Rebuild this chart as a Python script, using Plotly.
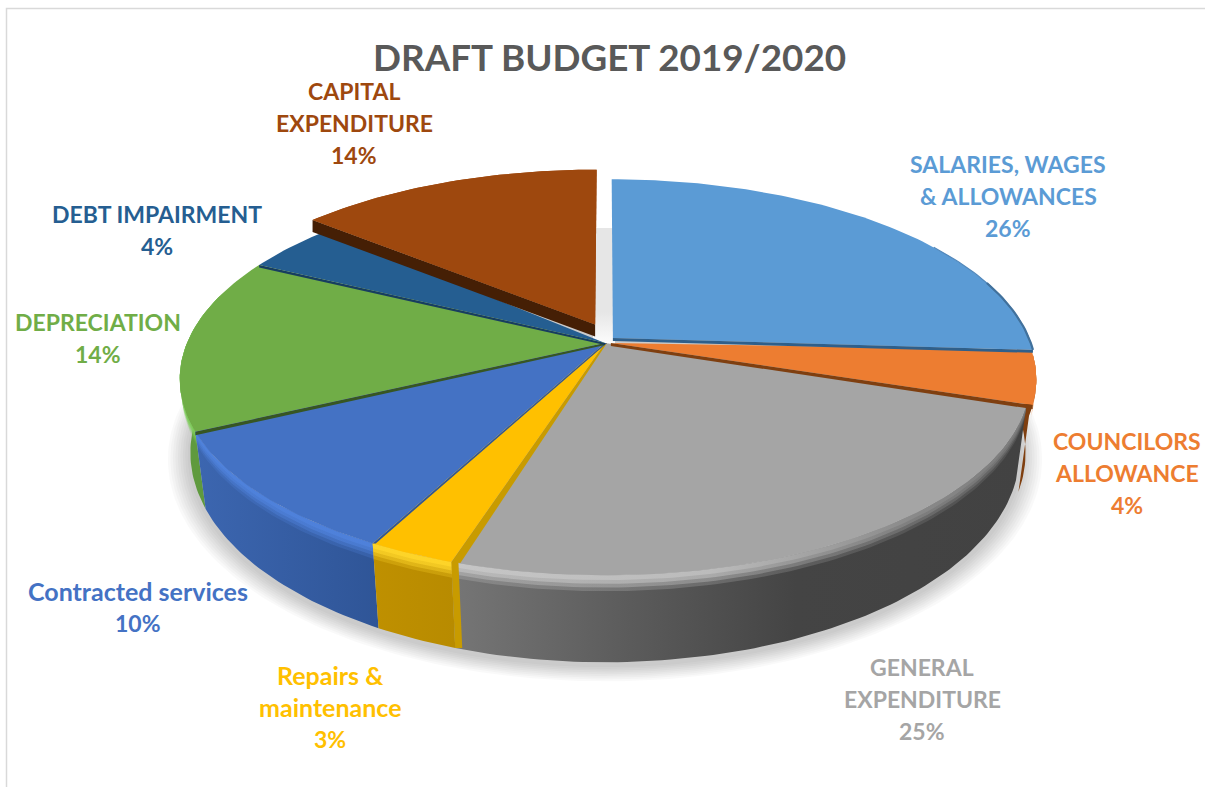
import numpy as np
import plotly.graph_objects as go

# ---- data (labels show these values rounded) ----
categories = ["SALARIES, WAGES & ALLOWANCES", "COUNCILORS ALLOWANCE", "GENERAL EXPENDITURE",
              "Repairs & maintenance", "Contracted services", "DEPRECIATION",
              "DEBT IMPAIRMENT", "CAPITAL EXPENDITURE"]
values = [26, 4, 24.9, 2.8, 10.2, 14.45, 3.65, 14]
label_lines = [["SALARIES, WAGES", "& ALLOWANCES"], ["COUNCILORS", "ALLOWANCE"], ["GENERAL", "EXPENDITURE"],
               ["Repairs &", "maintenance"], ["Contracted services"], ["DEPRECIATION"],
               ["DEBT IMPAIRMENT"], ["CAPITAL", "EXPENDITURE"]]
title_text = "DRAFT BUDGET 2019/2020"

# ---- styling ----
top_colors = ["#5b9bd5", "#ed7d31", "#a5a5a5", "#ffc000", "#4472c4", "#70ad47", "#255e91", "#9e480e"]
text_colors = top_colors
wall_scales = {
    1: [[0, "#7f3f10"], [1, "#7f3f10"]],
    2: [[0, "#767676"], [0.3, "#5c5c5c"], [0.6, "#444444"], [1, "#424242"]],
    3: [[0, "#bf9000"], [1, "#b88b00"]],
    4: [[0, "#3c66b0"], [1, "#2f5597"]],
    5: [[0, "#5f9a3e"], [1, "#5f9a3e"]],
}
bevel_rgb = {
    1: [(0, (240, 138, 64)), (1, (240, 138, 64))],
    2: [(0, (200, 200, 200)), (0.45, (190, 190, 190)), (0.8, (140, 140, 140)), (1, (125, 125, 125))],
    3: [(0, (255, 214, 42)), (1, (255, 214, 42))],
    4: [(0, (79, 130, 220)), (1, (79, 130, 220))],
    5: [(0, (124, 203, 88)), (1, (124, 203, 88))],
}
bevel_layers = [(13, 0.25), (10, 0.4), (7, 0.6), (4, 0.85)]
explode = {0: (0.019, -0.027), 1: (0.014, 0.0), 7: (-0.024, -0.10)}
edge_bands = [
    (0, "end", (0, 3), (0, 3), "#2f5f8a"),
    (1, "end", (0, 4), (0, 3), "#7f3f10"),
    (3, "start", (9, 1), (2, 0), "#c89b00"),
    (4, "start", (3, 0), (2, 0), "#2f5597"),
    (5, "start", (0, 3.5), (0, 2), "#375623"),
    (6, "start", (0, 2.5), (0, 2), "#173d60"),
    (7, "start", (0, 12), (0, 12), "#451f05"),
]
label_pos = [(1008, 164), (1127, 441), (922, 667), (330, 675), (138, 591), (98, 322), (157, 214), (354, 91)]
LINE = 32
CX, CY, R, RY, K, H = 605, 343, 418, 189.5, 0.184, 71
NARROW = 0.025


def project(u, v, z=0.0):
    s = 1 / (1 - K * v)
    return CX + R * u * s * (1 - NARROW * z / H), CY + RY * v * s + z * s


def rim(theta_deg, off=(0, 0), scale=1.0):
    t = np.radians(theta_deg)
    return scale * np.sin(t) + off[0], -scale * np.cos(t) + off[1]


def angles(a, b, step=1.0):
    n = max(int(abs(b - a) / step), 2) + 1
    return np.linspace(a, b, n)


cum = np.concatenate([[0], np.cumsum(values)]) * 360.0 / sum(values)
fig = go.Figure()


def poly(xs, ys, color=None, scale=None, grad="horizontal", name=None, hover=False):
    kw = dict(x=list(xs), y=list(ys), mode="lines", fill="toself", line=dict(width=0),
              showlegend=False, hoverinfo="skip")
    if scale is not None:
        kw["fillgradient"] = dict(type=grad, colorscale=scale)
    else:
        kw["fillcolor"] = color
    if hover:
        kw.update(name=name, hoverinfo="name", hoveron="fills")
    fig.add_trace(go.Scatter(**kw))


# soft floor shadow
all_t = np.linspace(0, 360, 361)
for g in np.linspace(0.05, 0.004, 9):
    u, v = rim(all_t, (0, 0.012), 1 + g)
    x, y = project(u, v, H)
    poly(x, y, "rgba(0,0,0,0.022)")

# grey gap left by the two pulled-out slices
x0, y0 = project(0, 0)
poly([x0 - 12, x0 + 10, x0 + 10, x0 - 12], [y0 - 115, y0 - 115, y0 + 5, y0 + 5],
     scale=[[0, "#ffffff"], [0.3, "#e6e6e6"], [1, "#e6e6e6"]], grad="vertical")

# outer walls: (bevel end, wall end) differ for the orange sliver and the green wall
wall_end = {1: cum[2] + 3.0, 5: 285.0}
for i in [5, 1, 4, 2, 3]:
    off = explode.get(i, (0, 0))
    a, b = cum[i], cum[i + 1]
    wb = wall_end.get(i, b)
    if i == 5:
        b = wb
    u, v = rim(angles(a, wb), off)
    xt, yt = project(u, v, 0)
    xb, yb = project(u, v, H)
    poly(np.r_[xt, xb[::-1]], np.r_[yt, yb[::-1]], scale=wall_scales[i])
    u, v = rim(angles(a, b), off)
    xt, yt = project(u, v, 0)
    for zb, alpha in bevel_layers:
        xb2, yb2 = project(u, v, zb)
        sc = [[p, f"rgba({c[0]},{c[1]},{c[2]},{alpha})"] for p, c in bevel_rgb[i]]
        poly(np.r_[xt, xb2[::-1]], np.r_[yt, yb2[::-1]], scale=sc)

# top faces; two run slightly under their pulled-out neighbours so no gap shows
overrun = {6: 2.0}
underrun = {1: 1.5}
for i in [7, 6, 5, 1, 0, 4, 2, 3]:
    off = explode.get(i, (0, 0))
    t = angles(cum[i] - underrun.get(i, 0), cum[i + 1] + overrun.get(i, 0))
    u, v = rim(t, off)
    xr, yr = project(u, v)
    xc, yc = project(off[0], off[1])
    poly(np.r_[xc, xr, xc], np.r_[yc, yr, yc], top_colors[i],
         name=f"{categories[i]}: {round(values[i])}%", hover=True)

# dark radial side faces
for i, side, o_rim, o_cen, col in edge_bands:
    off = explode.get(i, (0, 0))
    th = cum[i] if side == "start" else cum[i + 1]
    xe, ye = project(*rim(th, off))
    xm, ym = project(off[0], off[1])
    poly([xm, xe, xe + o_rim[0], xm + o_cen[0]], [ym, ye, ye + o_rim[1], ym + o_cen[1]], col)

# capital slice again, so it sits over the debt overrun
off = explode[7]
xr, yr = project(*rim(angles(cum[7], cum[8]), off))
xc, yc = project(*off)
poly(np.r_[xc, xr, xc], np.r_[yc, yr, yc], top_colors[7])

# the repairs slice's side face continues down the wall
xe, ye = project(*rim(cum[3]))
xw, yw = project(*rim(cum[3]), H)
poly([xe, xe + 7, xw + 7, xw], [ye, ye, yw, yw], "#c89b00")

# thin shaded rim of the pulled-out blue slice
for a0, w, col in [(58, 1.2, "#5288bb"), (72, 2.2, "#41719c")]:
    xs, ys = project(*rim(angles(a0, cum[1]), explode[0]))
    fig.add_trace(go.Scatter(x=xs, y=ys, mode="lines", line=dict(color=col, width=w),
                             showlegend=False, hoverinfo="skip"))

# chart frame (left and top edges)
fig.add_trace(go.Scatter(x=[6.5, 6.5, 1205], y=[787, 8.5, 8.5], mode="lines",
                         line=dict(color="#d9d9d9", width=1.5), showlegend=False, hoverinfo="skip"))

ann = [dict(x=609, y=57, text=f"<b>{title_text}</b>", showarrow=False, xanchor="center", yanchor="middle",
            font=dict(family="Lato", size=36.8, color="#595959"))]
for i, lines in enumerate(label_lines):
    lx, ly = label_pos[i]
    for j, s in enumerate(lines + [f"{round(values[i])}%"]):
        size = 25 if any(c.islower() for c in s) else 23
        ann.append(dict(x=lx, y=ly + j * LINE, text=f"<b>{s}</b>", showarrow=False,
                        xanchor="center", yanchor="middle",
                        font=dict(family="Lato", size=size, color=text_colors[i])))

fig.update_layout(
    width=1205, height=787, margin=dict(l=0, r=0, t=0, b=0),
    paper_bgcolor="white", plot_bgcolor="white", showlegend=False, annotations=ann,
    xaxis=dict(range=[0, 1205], visible=False, fixedrange=True),
    yaxis=dict(range=[787, 0], visible=False, fixedrange=True),
)
fig.write_html("out.html", config={"displayModeBar": False},
               post_script="document.body.style.margin='0';document.body.style.overflow='hidden';")
